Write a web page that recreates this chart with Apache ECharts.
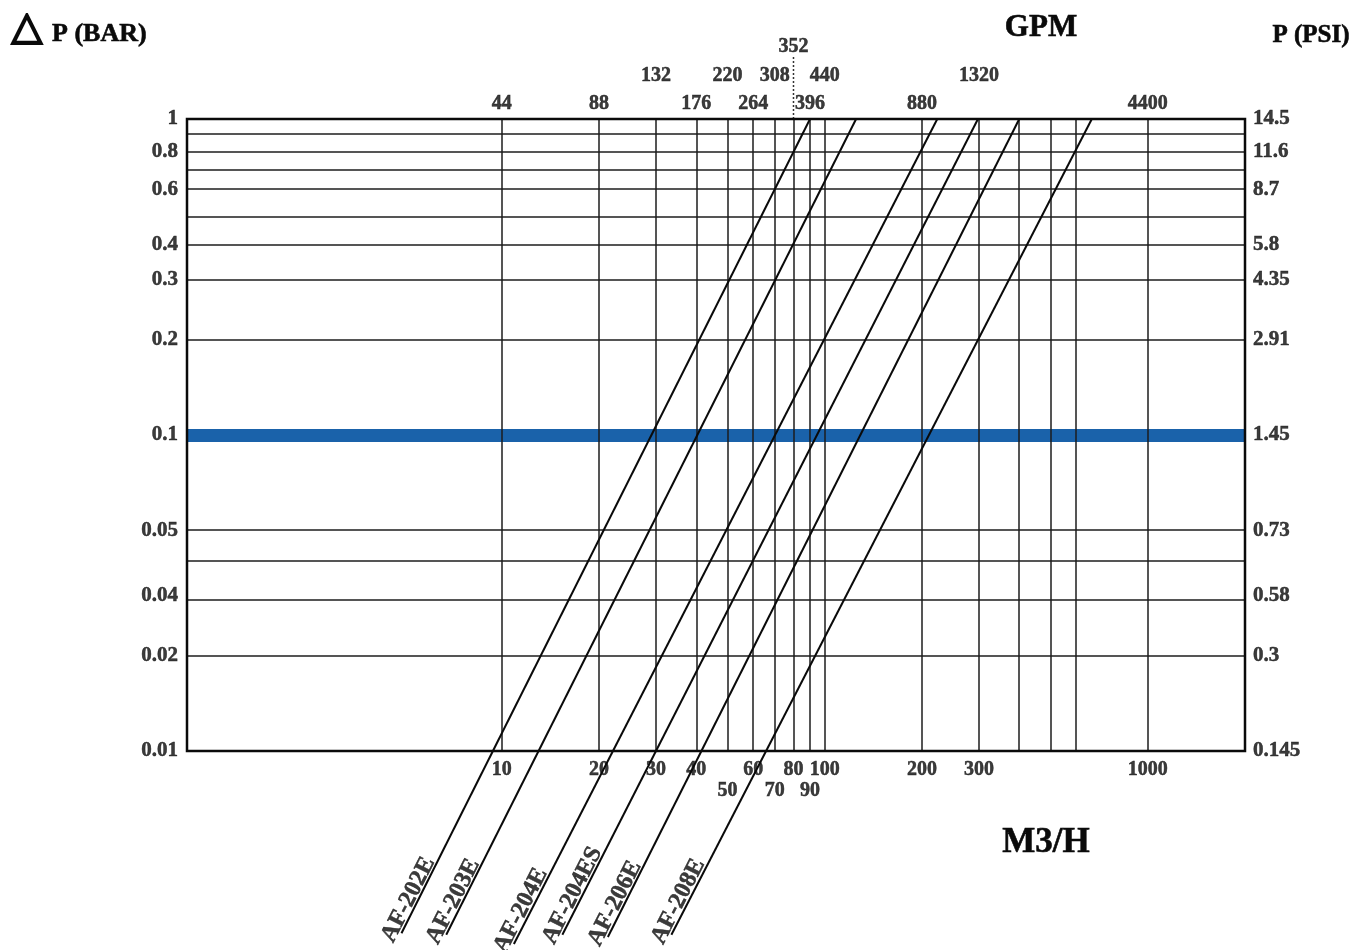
<!DOCTYPE html>
<html><head><meta charset="utf-8">
<style>html,body{margin:0;padding:0;background:#fff}#c{width:1362px;height:950px}</style>
<script src="https://cdn.jsdelivr.net/npm/echarts@6/dist/echarts.min.js"></script>
</head><body><div id="c"></div>
<script>
// ---- axis ranges (M3/H on x, bar on y, both logarithmic) ----
const xMin = 1.06, xMax = 2000;
const yMin = 0.01, yMax = 1;

// vertical grid lines (M3/H)
const flowGrid = [10, 20, 30, 40, 50, 60, 70, 80, 90, 100, 200, 300, 400, 500, 600, 1000];
// horizontal grid lines (bar)
const pressureGrid = [0.9, 0.79, 0.69, 0.6, 0.49, 0.4, 0.31, 0.2, 0.05, 0.04, 0.031, 0.02];
const highlightP = 0.1;

// left (bar) and right (psi) tick labels and the lines they sit on
const barTickValues = [1, 0.79, 0.6, 0.4, 0.31, 0.2, 0.1, 0.05, 0.031, 0.02, 0.01];
const barTickLabels = ['1', '0.8', '0.6', '0.4', '0.3', '0.2', '0.1', '0.05', '0.04', '0.02', '0.01'];
const psiTickLabels = ['14.5', '11.6', '8.7', '5.8', '4.35', '2.91', '1.45', '0.73', '0.58', '0.3', '0.145'];

// bottom M3/H tick labels (two staggered rows)
const m3hRow1Values = [10, 20, 30, 40, 60, 80, 100, 200, 300, 1000];
const m3hRow1Labels = ['10', '20', '30', '40', '60', '80', '100', '200', '300', '1000'];
const m3hRow2Values = [50, 70, 90];
const m3hRow2Labels = ['50', '70', '90'];

// top GPM tick labels (three staggered rows)
const gpmRow1Values = [10, 20, 40, 60, 90, 200, 1000];
const gpmRow1Labels = ['44', '88', '176', '264', '396', '880', '4400'];
const gpmRow2Values = [30, 50, 70, 100, 300];
const gpmRow2Labels = ['132', '220', '308', '440', '1320'];
const gpmRow3Values = [80];
const gpmRow3Labels = ['352'];
const gpmMarkerTop = 1.594;

// product pressure-drop lines: flow at 1 bar, and the lower end of the drawn line
const products = ['AF-202E', 'AF-203E', 'AF-204E', 'AF-204ES', 'AF-206E', 'AF-208E'];
const flowAt1Bar = [90, 125, 223, 298, 400, 671];
const flowAtEnd = [4.89, 6.73, 10.9, 15.4, 21.3, 33.5];
const pressureAtEnd = [0.00265, 0.00262, 0.00245, 0.00262, 0.00258, 0.00262];

// ---- build chart ----
const FONT = '"Liberation Serif", "Times New Roman", serif';
const INK = '#0a0a0a';
const chart = echarts.init(document.getElementById('c'), null, {renderer: 'canvas'});

function textSeries(xs, ys, labels, opts) {
  return {
    type: 'scatter', symbolSize: 1, clip: false, silent: true, z: 6,
    itemStyle: {color: 'rgba(0,0,0,0)'},
    data: xs.map((x, i) => ({value: [x, ys[i]], name: labels[i]})),
    label: Object.assign({
      show: true, position: 'inside', formatter: '{b}',
      fontFamily: FONT, fontWeight: 'bold', fontSize: 20, color: INK,
      textBorderColor: INK, textBorderWidth: 0.5
    }, opts)
  };
}
const fill = (n, v) => Array.from({length: n}, () => v);

const series = [];
// highlighted 0.1 bar line
series.push({
  type: 'line', data: [], silent: true, z: 1,
  markLine: {
    silent: true, symbol: 'none', animation: false, z: 1,
    label: {show: false},
    lineStyle: {color: '#1a62aa', width: 13, type: 'solid'},
    data: [{yAxis: highlightP}]
  }
});
// grid lines
series.push({
  type: 'line', data: [], silent: true, z: 2,
  markLine: {
    silent: true, symbol: 'none', animation: false, z: 2,
    label: {show: false},
    lineStyle: {color: '#1c1c1c', width: 1.5, type: 'solid'},
    data: flowGrid.map(v => ({xAxis: v})).concat(pressureGrid.map(v => ({yAxis: v})))
  }
});
// dotted marker above the 80 m3/h line
series.push({
  type: 'line', clip: false, silent: true, symbol: 'none', z: 3,
  data: [[gpmRow3Values[0], yMax], [gpmRow3Values[0], gpmMarkerTop]],
  lineStyle: {color: '#333', width: 1.5, type: [2, 2]}
});
// product lines
products.forEach((name, i) => {
  series.push({
    type: 'line', name: name, clip: false, silent: true, symbol: 'none', z: 4,
    data: [[flowAt1Bar[i], 1], [flowAtEnd[i], pressureAtEnd[i]]],
    lineStyle: {color: INK, width: 2}
  });
});
// product names along their lines
series.push(textSeries(flowAtEnd, pressureAtEnd, products, {
  rotate: 63, align: 'left', verticalAlign: 'bottom', fontSize: 24, offset: [-13, 3]
}));
// left bar labels
series.push(textSeries(fill(barTickValues.length, xMin), barTickValues, barTickLabels, {
  align: 'right', verticalAlign: 'middle', offset: [-9, 0], fontSize: 21
}));
// right psi labels
series.push(textSeries(fill(barTickValues.length, xMax), barTickValues, psiTickLabels, {
  align: 'left', verticalAlign: 'middle', offset: [8, 0], fontSize: 21
}));
// bottom M3/H labels
series.push(textSeries(m3hRow1Values, fill(m3hRow1Values.length, yMin), m3hRow1Labels, {
  align: 'center', verticalAlign: 'middle', offset: [0, 19]
}));
series.push(textSeries(m3hRow2Values, fill(m3hRow2Values.length, yMin), m3hRow2Labels, {
  align: 'center', verticalAlign: 'middle', offset: [0, 40]
}));
// top GPM labels
series.push(textSeries(gpmRow1Values, fill(gpmRow1Values.length, yMax), gpmRow1Labels, {
  align: 'center', verticalAlign: 'middle', offset: [0, -15]
}));
series.push(textSeries(gpmRow2Values, fill(gpmRow2Values.length, yMax), gpmRow2Labels, {
  align: 'center', verticalAlign: 'middle', offset: [0, -43]
}));
series.push(textSeries(gpmRow3Values, fill(gpmRow3Values.length, yMax), gpmRow3Labels, {
  align: 'center', verticalAlign: 'middle', offset: [0, -72]
}));

const hidden = {axisLine: {show: false}, axisTick: {show: false}, axisLabel: {show: false}, splitLine: {show: false}};
const titleStyle = (text, size, align) => ({text: text, fontSize: size, fontWeight: 'bold', fontFamily: FONT, fill: INK, stroke: INK, lineWidth: 0.6, align: align, verticalAlign: 'middle'});

chart.setOption({
  animation: false,
  backgroundColor: '#fff',
  grid: {left: 187, right: 117, top: 119, bottom: 199, show: true, borderColor: INK, borderWidth: 2.5, z: 5},
  xAxis: Object.assign({type: 'log', logBase: 10, min: xMin, max: xMax}, hidden),
  yAxis: Object.assign({type: 'log', logBase: 10, min: yMin, max: yMax}, hidden),
  graphic: [
    {type: 'text', x: 27, y: 29, style: {text: '△', fontSize: 40, fontWeight: 'bold', fontFamily: '"DejaVu Sans", sans-serif', fill: INK, stroke: INK, lineWidth: 2, align: 'center', verticalAlign: 'middle'}},
    {type: 'text', x: 52, y: 34, style: titleStyle('P (BAR)', 26, 'left')},
    {type: 'text', x: 1041, y: 28, style: titleStyle('GPM', 31, 'center')},
    {type: 'text', x: 1311, y: 36, style: titleStyle('P (PSI)', 25, 'center')},
    {type: 'text', x: 1046, y: 843, style: titleStyle('M3/H', 35, 'center')}
  ],
  series: series
});
</script>
</body></html>
